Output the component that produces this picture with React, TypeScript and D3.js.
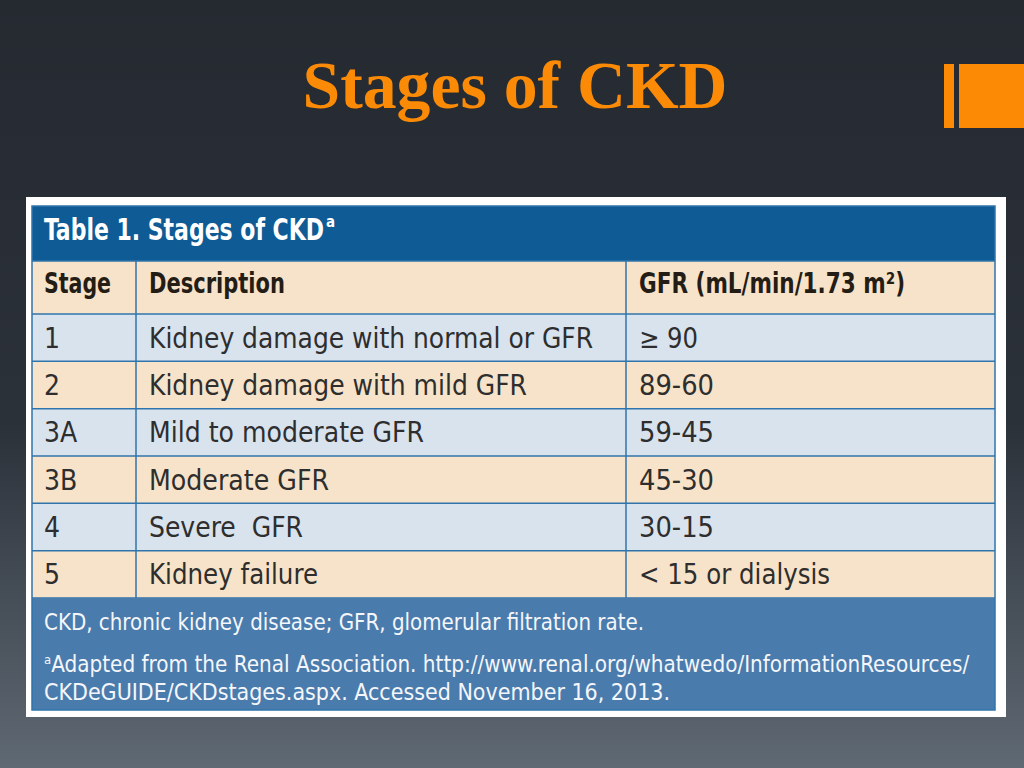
import React from "react";
import * as d3 from "d3";

const slideTitle = "Stages of CKD";
const tableTitle = "Table 1. Stages of CKD";
const headers = ["Stage", "Description", "GFR (mL/min/1.73 m²)"];
const stages = ["1", "2", "3A", "3B", "4", "5"];
const descriptions = [
  "Kidney damage with normal or GFR",
  "Kidney damage with mild GFR",
  "Mild to moderate GFR",
  "Moderate GFR",
  "Severe  GFR",
  "Kidney failure",
];
const gfrRanges = ["≥ 90", "89-60", "59-45", "45-30", "30-15", "< 15 or dialysis"];
const footnotes = [
  "CKD, chronic kidney disease; GFR, glomerular filtration rate.",
  "Adapted from the Renal Association. http://www.renal.org/whatwedo/InformationResources/",
  "CKDeGUIDE/CKDstages.aspx. Accessed November 16, 2013.",
];

const W = 1024;
const H = 768;
const FONT = "'Liberation Sans Narrow', 'DejaVu Sans Condensed', 'Liberation Sans', sans-serif";

export default function App() {
  const tableX0 = 32;
  const tableX1 = 995;
  const colEdges = [32, 136, 626, 995];
  const titleTop = 206;
  const headTop = 261;
  const bodyTop = 314;
  const bodyBottom = 598;
  const footBottom = 710;

  const y = d3.scaleBand<string>().domain(stages).range([bodyTop, bodyBottom]).padding(0);
  const textX = colEdges.slice(0, 3).map((c, i) => c + (i === 0 ? 12 : 13));

  const lineColor = "#2f74ab";

  return (
    <div style={{ position: "fixed", left: 0, top: 0, width: W, height: H, overflow: "hidden" }}>
      <svg width={W} height={H} style={{ display: "block", whiteSpace: "pre" }}>
        <defs>
          <linearGradient id="bg" x1="0" y1="0" x2="0" y2="1">
            <stop offset="0" stopColor="#252a31" />
            <stop offset="0.55" stopColor="#2b3139" />
            <stop offset="1" stopColor="#5f6973" />
          </linearGradient>
        </defs>
        <rect x={0} y={0} width={W} height={H} fill="url(#bg)" />

        {/* slide title */}
        <text
          x={515}
          y={108}
          textAnchor="middle"
          fill="#fb8a06"
          fontFamily="'Liberation Serif', 'DejaVu Serif', serif"
          fontWeight="bold"
          fontSize={68}
          textLength={425}
          lengthAdjust="spacingAndGlyphs"
        >
          {slideTitle}
        </text>

        {/* decoration */}
        <rect x={944} y={64} width={10} height={64} fill="#fd8a04" />
        <rect x={959} y={64} width={65} height={64} fill="#fd8a04" />

        {/* white panel */}
        <rect x={26} y={197} width={980} height={520} fill="#ffffff" />

        {/* title band */}
        <rect x={tableX0} y={titleTop} width={tableX1 - tableX0} height={headTop - titleTop} fill="#0e5b95" />
        <text x={44} y={240} fill="#ffffff" fontFamily={FONT} fontWeight="bold" fontSize={30}>
          <tspan textLength={280} lengthAdjust="spacingAndGlyphs">{tableTitle}</tspan>
          <tspan dx={2} dy={-13} fontSize={15}>a</tspan>
        </text>

        {/* header row */}
        <rect x={tableX0} y={headTop} width={tableX1 - tableX0} height={bodyTop - headTop} fill="#f7e3c9" />
        {headers.map((h, i) => (
          <text key={h} x={textX[i]} y={293} fill="#231d16" fontFamily={FONT} fontWeight="bold" fontSize={28}
            textLength={[67, 136, 266][i]} lengthAdjust="spacingAndGlyphs">
            {h}
          </text>
        ))}

        {/* body rows */}
        {stages.map((s, i) => {
          const top = y(s)!;
          const bw = y.bandwidth();
          const base = top + bw / 2 + 10;
          return (
            <g key={s}>
              <rect x={tableX0} y={top} width={tableX1 - tableX0} height={bw} fill={i % 2 === 0 ? "#d9e3ee" : "#f7e3c9"} />
              <text x={textX[0]} y={base} fill="#2e2e2e" fontFamily={FONT} fontSize={28}>{s}</text>
              <text x={textX[1]} y={base} fill="#2e2e2e" fontFamily={FONT} fontSize={28} style={{ whiteSpace: "pre" }}
                textLength={[444, 378, 275, 180, 154, 169][i]} lengthAdjust="spacingAndGlyphs">{descriptions[i]}</text>
              <text x={textX[2]} y={base} fill="#2e2e2e" fontFamily={FONT} fontSize={28}
                textLength={[59, 75, 75, 75, 75, 191][i]} lengthAdjust="spacingAndGlyphs">{gfrRanges[i]}</text>
            </g>
          );
        })}

        {/* grid lines */}
        {[headTop, ...stages.map((s) => y(s)!), bodyBottom].map((yy, i) => (
          <line key={"h" + i} x1={tableX0} x2={tableX1} y1={yy} y2={yy} stroke={lineColor} strokeWidth={1.5} />
        ))}
        {colEdges.slice(1, 3).map((cx, i) => (
          <line key={"v" + i} x1={cx} x2={cx} y1={headTop} y2={bodyBottom} stroke={lineColor} strokeWidth={1.5} />
        ))}

        {/* footer */}
        <rect x={tableX0} y={bodyBottom} width={tableX1 - tableX0} height={footBottom - bodyBottom} fill="#4a7bad" />
        <text x={44} y={630} fill="#f4f6f9" fontFamily={FONT} fontSize={23} textLength={600} lengthAdjust="spacingAndGlyphs">{footnotes[0]}</text>
        <text x={44} y={672} fill="#f4f6f9" fontFamily={FONT} fontSize={23}>
          <tspan dy={-8} fontSize={13}>a</tspan>
          <tspan dy={8} textLength={918} lengthAdjust="spacingAndGlyphs">{footnotes[1]}</tspan>
        </text>
        <text x={44} y={700} fill="#f4f6f9" fontFamily={FONT} fontSize={23} textLength={626} lengthAdjust="spacingAndGlyphs">{footnotes[2]}</text>

        {/* table outline */}
        <rect x={tableX0} y={titleTop} width={tableX1 - tableX0} height={footBottom - titleTop} fill="none" stroke={lineColor} strokeWidth={1.5} />
      </svg>
    </div>
  );
}
